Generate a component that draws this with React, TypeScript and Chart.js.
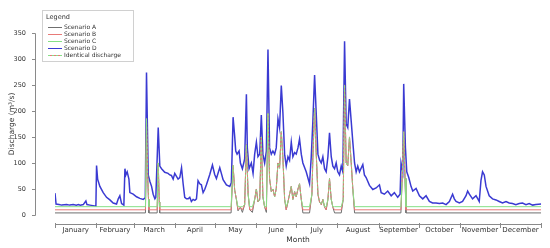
import React, { useEffect, useRef } from 'react';
import { Chart, registerables } from 'chart.js';

Chart.register(...registerables);

const FONT = "'DejaVu Sans', Verdana, sans-serif";

const monthNames = ['January', 'February', 'March', 'April', 'May', 'June', 'July', 'August', 'September', 'October', 'November', 'December'];
const monthStartDays = [0, 31, 59, 90, 120, 151, 181, 212, 243, 273, 304, 334, 365];
const yTickValues = [0, 50, 100, 150, 200, 250, 300, 350];

// Scenario D (natural discharge), day of year -> m3/s
const dDays = [
  0, 0.8, 3, 5, 8.7, 11, 13.7, 16, 17.5, 19, 21.2, 23.2, 24, 26.2, 28.5, 30.7,
  31.2, 32, 33.7, 36.2, 38.7, 41.2, 43.7, 46.2, 47.5, 48.7, 50, 51.7, 52.5, 53.2, 54.2, 55.5,
  56.2, 58.7, 61.2, 63.7, 66.2, 67.8, 68.7, 70, 71.2, 72.5, 73.7, 75, 75.7, 77.5, 78.7, 80,
  82.4, 84.9, 86.2, 87.4, 88.7, 89.9, 92.4, 93.7, 95, 96.2, 97.4, 98.7, 100, 101.2, 102.4, 103.7,
  105, 106.2, 107.4, 108.7, 109.9, 111.2, 112.4, 113.7, 116.2, 118.2, 119.9, 121.2, 123.7, 124.9, 126.2, 128.7,
  131.2, 132.4, 133.7, 134.9, 135.7, 136.7, 138.2, 139.2, 140.7, 141.7, 142.4, 143.7, 144.4, 145.7, 147.4, 148.7,
  149.9, 151.2, 152.4, 153.7, 154.9, 156.1, 157.4, 158.7, 159.9, 161.1, 162.4, 163.6, 164.9, 166.1, 167.4, 168.6,
  169.9, 171.1, 172.4, 173.6, 174.9, 176.1, 177.4, 178.6, 179.9, 181.1, 182.4, 183.6, 184.9, 186.1, 188.6, 191.1,
  192.4, 193.6, 194.9, 196.1, 197.4, 198.6, 199.9, 201.1, 202.4, 203.6, 204.9, 206.1, 207.4, 208.6, 209.9, 211.1,
  212.3, 213.6, 214.9, 216.1, 217.4, 218.6, 219.8, 221.1, 222.4, 223.6, 224.9, 226.1, 227.3, 228.6, 231.1, 232.3,
  233.6, 236.1, 238.6, 241.1, 243.6, 244.9, 247.3, 249.8, 252.4, 254.8, 257.3, 259.1, 259.8, 261.1, 261.8, 263.1,
  264.1, 265.6, 267.3, 268.6, 271.1, 273.6, 276.1, 278.6, 281.1, 283.5, 286.1, 288.6, 291.1, 293.6, 296.1, 298.5,
  299.8, 301.1, 303.6, 306, 308.6, 309.8, 311.1, 313.5, 316.1, 318.5, 319.8, 321, 322.3, 323.6, 326, 328.5,
  331.1, 333.5, 336, 338.6, 341, 343.5, 346, 348.5, 351, 353.6, 356, 358.6, 361, 365,
];
const dValues = [
  42, 21, 20, 19, 20, 19, 20, 19, 20, 19, 20, 27, 20, 19, 18, 17,
  95, 69, 55, 43, 34, 29, 23, 21, 31, 37, 22, 19, 89, 77, 83, 69,
  43, 40, 35, 32, 30, 33, 274, 77, 65, 55, 40, 31, 34, 168, 94, 89,
  82, 80, 77, 76, 69, 80, 69, 72, 91, 60, 34, 31, 31, 34, 26, 30,
  28, 31, 66, 60, 58, 43, 49, 58, 78, 96, 78, 70, 91, 80, 68, 58,
  55, 62, 188, 151, 123, 117, 123, 100, 89, 100, 108, 232, 129, 89, 100, 80,
  117, 140, 112, 117, 192, 117, 100, 123, 318, 129, 117, 123, 117, 129, 185, 168,
  249, 197, 117, 94, 112, 105, 140, 112, 120, 117, 129, 146, 117, 100, 83, 60,
  112, 180, 269, 197, 117, 106, 100, 112, 89, 83, 112, 158, 112, 94, 89, 100,
  83, 77, 94, 83, 334, 175, 168, 223, 180, 140, 100, 83, 94, 83, 97, 77,
  72, 57, 49, 52, 58, 43, 40, 46, 37, 43, 34, 40, 100, 83, 252, 129,
  83, 72, 55, 46, 51, 37, 31, 37, 26, 23, 23, 22, 23, 20, 26, 40,
  31, 26, 23, 26, 37, 46, 40, 31, 37, 26, 66, 83, 77, 55, 37, 31,
  29, 26, 23, 26, 23, 22, 20, 22, 23, 20, 22, 19, 20, 21,
];

// Identical discharge (spill) of scenarios A, B and C, day of year -> m3/s
const spillDays = [
  67.9, 68.7, 69.5, 70.2, 70.5,
  76.7, 77.5, 78.3, 78.6,
  132.2, 133.7, 134.9, 136.2, 137.4, 139.2, 140.7, 142.4, 143.7, 145, 146.2, 148.2, 149.9, 151.2, 152.4, 153.7,
  154.9, 156.1, 157.4, 158.7, 159.9, 161.1, 162.4, 163.6, 164.9, 166.1, 167.4, 168.6, 169.9, 171.1, 172.4, 173.6,
  174.9, 176.1, 177.4, 178.6, 179.9, 181.1, 182.4, 183.6, 184.9, 186.1, 191.1, 192.9, 193.6, 194.9, 196.1, 197.4,
  198.6, 199.9, 201.1, 202.4, 203.6, 204.9, 206.1, 207.4, 208.6, 209.9, 214.9, 216.4, 217.4, 218.6, 219.8, 221.1,
  222.4, 223.6, 224.9,
  259.7, 260.5, 261.8, 262.8, 263.5,
];
const spillValues = [
  0, 185, 80, 30, 0,
  0, 100, 25, 0,
  0, 95, 48, 30, 8, 15, 5, 20, 135, 40, 10, 5, 30, 50, 25, 30,
  150, 35, 15, 5, 195, 70, 45, 50, 35, 50, 100, 90, 160, 110, 30, 10,
  25, 40, 55, 30, 45, 35, 50, 60, 30, 0, 0, 40, 110, 205, 120, 40,
  25, 20, 30, 15, 10, 30, 70, 30, 15, 0, 0, 30, 250, 100, 95, 150,
  100, 50, 0,
  0, 60, 160, 70, 0,
];

// Minimum (base) discharge of each scenario
const baseA = 4;
const baseB = 10;
const baseC = 16;

const seriesColors = {
  A: '#6f6f6f',
  B: '#e87a78',
  C: '#86e086',
  D: '#3a3ad2',
};

function scenarioPoints(base: number) {
  const pts: { x: number; y: number }[] = [{ x: 0, y: base }];
  spillDays.forEach((d, i) => pts.push({ x: d, y: Math.max(base, spillValues[i]) }));
  pts.push({ x: 365, y: base });
  return pts;
}

const axesAndLegend = {
  id: 'axesAndLegend',
  afterDraw(chart: any) {
    const { ctx, scales } = chart;
    const xs = scales.x;
    const ys = scales.y;
    ctx.save();
    ctx.strokeStyle = '#8a8a8a';
    ctx.lineWidth = 1;
    // y axis
    const ax = 35.5;
    ctx.beginPath();
    ctx.moveTo(ax, Math.round(ys.getPixelForValue(350)) + 0.5);
    ctx.lineTo(ax, Math.round(ys.getPixelForValue(0)) + 0.5);
    yTickValues.forEach((v) => {
      const py = Math.round(ys.getPixelForValue(v)) + 0.5;
      ctx.moveTo(32, py);
      ctx.lineTo(ax, py);
    });
    // x axis
    const ay = 224.5;
    ctx.moveTo(Math.round(xs.getPixelForValue(0)) + 0.5, ay);
    ctx.lineTo(Math.round(xs.getPixelForValue(365)) + 0.5, ay);
    monthStartDays.forEach((d) => {
      const px = Math.round(xs.getPixelForValue(d)) + 0.5;
      ctx.moveTo(px, 223);
      ctx.lineTo(px, 228);
    });
    ctx.stroke();

    // legend
    const lx = 42.5, ly = 10.5, lw = 91, lh = 51;
    ctx.fillStyle = '#ffffff';
    ctx.fillRect(lx, ly, lw, lh);
    ctx.strokeStyle = '#d0d0d0';
    ctx.strokeRect(lx, ly, lw, lh);
    ctx.fillStyle = '#333333';
    ctx.textBaseline = 'middle';
    ctx.textAlign = 'left';
    ctx.font = `6.5px ${FONT}`;
    ctx.fillText('Legend', 46, 17);
    const entries = [
      { label: 'Scenario A', color: seriesColors.A },
      { label: 'Scenario B', color: seriesColors.B },
      { label: 'Scenario C', color: seriesColors.C },
      { label: 'Scenario D', color: seriesColors.D },
      { label: 'Identical discharge', color: 'mixed' },
    ];
    ctx.font = `6px ${FONT}`;
    entries.forEach((e, i) => {
      const yy = 27.5 + i * 7;
      ctx.lineWidth = 1;
      if (e.color === 'mixed') {
        ctx.strokeStyle = seriesColors.B;
        ctx.setLineDash([]);
        ctx.beginPath();
        ctx.moveTo(48, yy);
        ctx.lineTo(62, yy);
        ctx.stroke();
        ctx.strokeStyle = seriesColors.C;
        ctx.setLineDash([2, 2]);
        ctx.beginPath();
        ctx.moveTo(48, yy);
        ctx.lineTo(62, yy);
        ctx.stroke();
        ctx.setLineDash([]);
      } else {
        ctx.strokeStyle = e.color;
        ctx.beginPath();
        ctx.moveTo(48, yy);
        ctx.lineTo(62, yy);
        ctx.stroke();
      }
      ctx.fillStyle = '#333333';
      ctx.fillText(e.label, 64, yy);
    });
    ctx.restore();
  },
};

export default function App() {
  const canvasRef = useRef<HTMLCanvasElement | null>(null);

  useEffect(() => {
    document.body.style.margin = '0';
    const canvas = canvasRef.current;
    if (!canvas) return;
    const chart = new Chart(canvas, {
      type: 'line',
      data: {
        datasets: [
          {
            label: 'Scenario A',
            data: scenarioPoints(baseA),
            borderColor: seriesColors.A,
            borderWidth: 1,
            pointRadius: 0,
            order: 3,
          },
          {
            label: 'Scenario B',
            data: scenarioPoints(baseB),
            borderColor: seriesColors.B,
            borderWidth: 1,
            pointRadius: 0,
            order: 2,
          },
          {
            label: 'Scenario C',
            data: scenarioPoints(baseC),
            borderColor: seriesColors.C,
            borderWidth: 1,
            pointRadius: 0,
            order: 1,
            segment: {
              borderDash: (c: any) => (c.p0.parsed.y > baseC && c.p1.parsed.y > baseC ? [2, 2] : undefined),
            },
          },
          {
            label: 'Scenario D',
            data: dDays.map((d, i) => ({ x: d, y: dValues[i] })),
            borderColor: seriesColors.D,
            borderWidth: 1.5,
            pointRadius: 0,
            order: 4,
          },
        ],
      },
      options: {
        responsive: false,
        animation: false,
        devicePixelRatio: 1,
        events: [],
        elements: { line: { tension: 0 }, point: { radius: 0 } },
        layout: { padding: { top: 11, right: 8, left: 0, bottom: 0 } },
        plugins: { legend: { display: false }, tooltip: { enabled: false } },
        scales: {
          x: {
            type: 'linear',
            min: 0,
            max: 365,
            grid: { display: false, drawTicks: false },
            border: { display: false },
            afterBuildTicks: (s: any) => {
              s.ticks = monthNames.map((_, i) => ({ value: (monthStartDays[i] + monthStartDays[i + 1]) / 2 }));
            },
            afterFit: (s: any) => {
              s.height = 33;
            },
            ticks: {
              autoSkip: false,
              maxRotation: 0,
              minRotation: 0,
              padding: 11,
              color: '#333333',
              font: { family: FONT, size: 7 },
              callback: (_v: any, i: number) => monthNames[i],
            },
            title: {
              display: true,
              text: 'Month',
              color: '#333333',
              font: { family: FONT, size: 7.5 },
              padding: { top: 0, bottom: 3.5 },
            },
          },
          y: {
            type: 'linear',
            min: 0,
            max: 350,
            grid: { display: false, drawTicks: false },
            border: { display: false },
            afterBuildTicks: (s: any) => {
              s.ticks = yTickValues.map((v) => ({ value: v }));
            },
            afterFit: (s: any) => {
              s.width = 55;
            },
            ticks: {
              padding: 29,
              color: '#333333',
              font: { family: FONT, size: 6.5 },
            },
            title: {
              display: true,
              text: 'Discharge (m³/s)',
              color: '#333333',
              font: { family: FONT, size: 7.5 },
              padding: { top: 7.5, bottom: 0 },
            },
          },
        },
      },
      plugins: [axesAndLegend],
    } as any);
    return () => chart.destroy();
  }, []);

  return (
    <div style={{ width: 550, height: 248 }}>
      <canvas ref={canvasRef} width={550} height={248} style={{ display: 'block' }} />
    </div>
  );
}
